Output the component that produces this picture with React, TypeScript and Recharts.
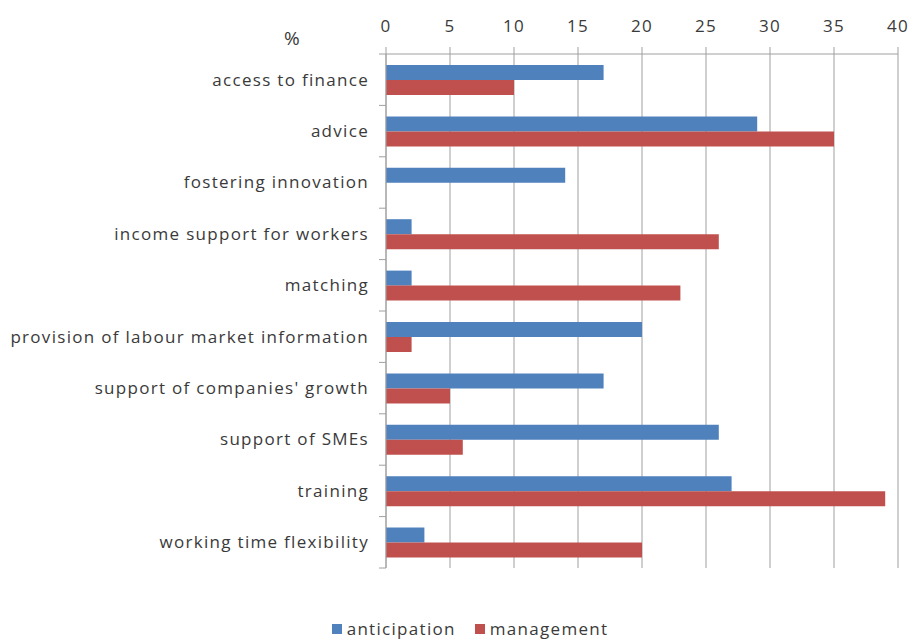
import { BarChart, Bar, XAxis, YAxis, CartesianGrid, Legend } from "recharts";

const categories = [
  "access to finance",
  "advice",
  "fostering innovation",
  "income support for workers",
  "matching",
  "provision of labour market information",
  "support of companies' growth",
  "support of SMEs",
  "training",
  "working time flexibility",
];
const anticipation = [17, 29, 14, 2, 2, 20, 17, 26, 27, 3];
const management = [10, 35, 0, 26, 23, 2, 5, 6, 39, 20];
const xTicks = [0, 5, 10, 15, 20, 25, 30, 35, 40];

const BLUE = "#4f81bd";
const RED = "#c0504d";
const GRID = "#a0a0a0";
const TEXT = "#3a3a3a";
const FONT = "'Open Sans', sans-serif";
const FS = 17;
const LS = 1.3;

const W = 910;
const H = 639;
const TOP = 54;
const BOTTOM = 71;
const BAND = (H - TOP - BOTTOM) / categories.length;

const data = categories.map((category, i) => ({
  category,
  anticipation: anticipation[i],
  management: management[i],
}));

function CategoryTick(props: any) {
  const { x, y, payload, index } = props;
  const half = BAND / 2;
  return (
    <g>
      <line x1={x - 7} x2={x} y1={y - half} y2={y - half} stroke={GRID} />
      {index === categories.length - 1 && (
        <line x1={x - 7} x2={x} y1={y + half} y2={y + half} stroke={GRID} />
      )}
      <text
        x={x - 17}
        y={y}
        dy="0.35em"
        textAnchor="end"
        fill={TEXT}
        fontSize={FS}
        letterSpacing={LS}
        fontFamily={FONT}
      >
        {payload.value}
      </text>
    </g>
  );
}

function LegendContent() {
  const items = [
    { name: "anticipation", color: BLUE },
    { name: "management", color: RED },
  ];
  return (
    <div style={{ display: "flex", justifyContent: "center", gap: 19 }}>
      {items.map((it) => (
        <div key={it.name} style={{ display: "flex", alignItems: "center" }}>
          <span
            style={{
              display: "inline-block",
              width: 10,
              height: 10,
              background: it.color,
              marginRight: 5,
            }}
          />
          <span style={{ fontFamily: FONT, fontSize: FS, letterSpacing: LS, color: TEXT }}>
            {it.name}
          </span>
        </div>
      ))}
    </div>
  );
}

export default function App() {
  return (
    <div style={{ position: "absolute", left: 0, top: 0, width: W, height: H, background: "#fff" }}>
      <div
        style={{
          position: "absolute",
          left: 284,
          top: 25,
          fontFamily: FONT,
          fontSize: 19,
          color: TEXT,
        }}
      >
        %
      </div>
      <BarChart
        width={W}
        height={H}
        data={data}
        layout="vertical"
        barSize={15}
        barGap={0}
        margin={{ top: 0, right: 12, bottom: BOTTOM - 24, left: 0 }}
      >
        <CartesianGrid horizontal={false} stroke={GRID} />
        <XAxis
          type="number"
          orientation="top"
          domain={[0, 40]}
          ticks={xTicks}
          height={TOP}
          axisLine={{ stroke: GRID }}
          tickLine={{ stroke: GRID }}
          tickSize={7}
          tickMargin={15}
          tick={{ fill: TEXT, fontSize: FS, fontFamily: FONT, letterSpacing: LS }}
          interval={0}
        />
        <YAxis
          type="category"
          dataKey="category"
          width={386}
          axisLine={{ stroke: GRID }}
          tickLine={false}
          tickSize={0}
          tickMargin={0}
          tick={CategoryTick}
          interval={0}
        />
        <Legend
          verticalAlign="bottom"
          height={24}
          content={LegendContent}
          wrapperStyle={{ left: 0, width: 940, top: 617 }}
        />
        <Bar dataKey="anticipation" fill={BLUE} isAnimationActive={false} />
        <Bar dataKey="management" fill={RED} isAnimationActive={false} />
      </BarChart>
    </div>
  );
}
